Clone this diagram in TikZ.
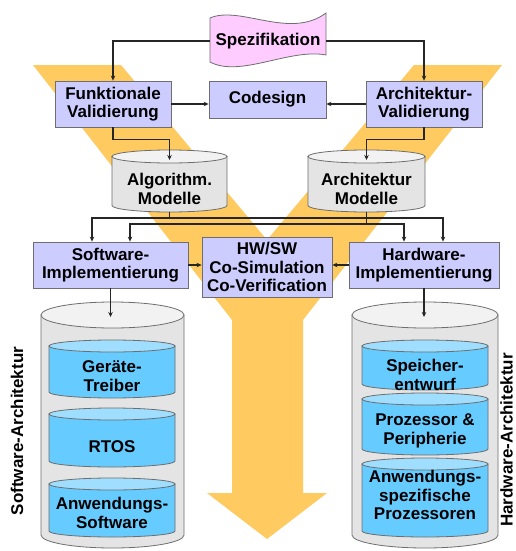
\documentclass[tikz,border=0pt]{standalone}
\usepackage{fontspec}
\setmainfont{Liberation Sans}
\usetikzlibrary{arrows.meta}

\definecolor{gelb}{RGB}{255,202,95}
\definecolor{lila}{RGB}{204,204,255}
\definecolor{rosa}{RGB}{255,204,255}
\definecolor{blau}{RGB}{102,204,255}
\definecolor{hellblau}{RGB}{160,222,255}
\definecolor{grau}{RGB}{228,228,228}
\definecolor{hellgrau}{RGB}{242,242,242}
\definecolor{rand}{RGB}{110,110,110}

% upright drum: left x, top y, right x, bottom y, y radius, body colour, lid colour
\newcommand{\trommel}[7]{%
  \pgfmathsetmacro{\rx}{(#3-#1)/2}
  \filldraw[draw=rand, line width=0.8pt, fill=#6] (#1,#2+#5) -- (#1,#4-#5)
    arc[start angle=180, end angle=360, x radius=\rx pt, y radius=#5pt]
    -- (#3,#2+#5) -- cycle;
  \filldraw[draw=rand, line width=0.8pt, fill=#7] ({(#1+#3)/2},#2+#5) ellipse[x radius=\rx pt, y radius=#5pt];
}

\begin{document}
\begin{tikzpicture}[x=1pt,y=-1pt]
\tikzstyle{every node}=[font=\fontsize{17}{18.5}\selectfont\bfseries, text=black]
\tikzstyle{kasten}=[draw=rand, fill=lila, line width=0.8pt, align=center, inner sep=0pt]
\tikzstyle{txt}=[align=center, inner sep=0pt]
\tikzstyle{pfeil}=[-{Stealth[length=5pt,width=4.5pt]}, line width=1.2pt, draw=black!85]

\useasboundingbox (0,0) rectangle (516,551);
\fill[white] (0,0) rectangle (516,551);

% the big V with its arrow
\fill[gelb] (33,65) -- (121,65) -- (267,240) -- (414,65) -- (502,65) -- (303,320)
  -- (303,493) -- (327,493) -- (267,539) -- (207,493) -- (232,493) -- (232,320) -- cycle;

% Spezifikation
\filldraw[draw=rand, fill=rosa, line width=0.8pt] (210,18) .. controls (240,5) and (290,40) .. (326,13)
  -- (326,55) .. controls (290,48) and (240,78) .. (210,62) -- cycle;
\node[txt, minimum width=116pt, minimum height=40pt] (spec) at (268,41) {Spezifikation};

% validation and codesign
\node[kasten, minimum width=116pt, minimum height=46pt] (fv) at (113,104) {Funktionale\\Validierung};
\node[kasten, minimum width=117pt, minimum height=37pt] (cd) at (267.5,99.5) {Codesign};
\node[kasten, minimum width=116pt, minimum height=46pt] (av) at (424,104) {Architektur-\\Validierung};

% models
\trommel{112}{150}{227}{212}{6.5}{grau}{hellgrau}
\node[txt] (algo) at (169.5,189) {Algorithm.\\Modelle};
\coordinate (algo-in) at (169.5,160);
\coordinate (algo-out) at (169.5,212);
\trommel{308}{150}{425}{212}{6.5}{grau}{hellgrau}
\node[txt] (arch) at (366.5,189) {Architektur\\Modelle};
\coordinate (arch-in) at (366.5,160);
\coordinate (arch-out) at (366.5,212);

% implementation
\node[kasten, minimum width=155pt, minimum height=46pt] (sw) at (110.5,265) {Software-\\Implementierung};
\node[kasten, minimum width=130pt, minimum height=60pt] (hs) at (267,267) {HW/SW\\Co-Simulation\\Co-Verification};
\node[kasten, minimum width=150pt, minimum height=46pt] (hw) at (424,265) {Hardware-\\Implementierung};

% software side
\trommel{41}{302}{184}{548}{13}{grau}{hellgrau}
\coordinate (swa-in) at (112.5,317);
\trommel{49}{340}{175}{398}{6}{blau}{hellblau}
\node[txt] (treiber) at (112,376) {Geräte-\\Treiber};
\trommel{49}{408}{175}{467}{6}{blau}{hellblau}
\node[txt] (rtos) at (112,447) {RTOS};
\trommel{49}{478}{175}{537}{6}{blau}{hellblau}
\node[txt] (anwsw) at (112,513) {Anwendungs-\\Software};
\node[rotate=90] (swarch) at (17,431) {Software-Architektur};

% hardware side
\trommel{352}{302}{498}{548}{13}{grau}{hellgrau}
\coordinate (hwa-in) at (425,317);
\trommel{362}{340}{488}{390}{6}{blau}{hellblau}
\node[txt] (speicher) at (425,375) {Speicher-\\entwurf};
\trommel{362}{393}{488}{455}{6}{blau}{hellblau}
\node[txt] (proz) at (425,431) {Prozessor \&\\Peripherie};
\trommel{362}{458}{488}{537}{6}{blau}{hellblau}
\node[txt] (asip) at (425,495) {Anwendungs-\\spezifische\\Prozessoren};
\node[rotate=90, inner sep=0pt] (hwarch) at (506.5,440) {Hardware-Architektur};

% connections
\draw[pfeil] (spec.west) -| (fv.north);
\draw[pfeil] (spec.east) -| (av.north);
\draw[pfeil] (fv.east) -- (fv.east -| cd.west);
\draw[pfeil] (av.west) -- (av.west -| cd.east);
\draw[pfeil] (fv.south) -- ++(0,12) -| (algo-in);
\draw[pfeil] (av.south) -- ++(0,12) -| (arch-in);
\draw[pfeil] (algo-out) -- ++(0,6) -| ([xshift=-18.5pt]sw.north);
\draw[pfeil] (algo-out) -- ++(0,6) -| ([xshift=19pt]hw.north);
\draw[pfeil] (arch-out) -- ++(0,12) -| ([xshift=19.5pt]sw.north);
\draw[pfeil] (arch-out) -- ++(0,12) -| ([xshift=-20pt]hw.north);
\draw[pfeil] (sw.east) -- (sw.east -| hs.west);
\draw[pfeil] (hw.west) -- (hw.west -| hs.east);
\draw[pfeil] (sw.south) -- (sw.south |- swa-in);
\draw[pfeil] (hw.south) -- (hw.south |- hwa-in);
\end{tikzpicture}
\end{document}
